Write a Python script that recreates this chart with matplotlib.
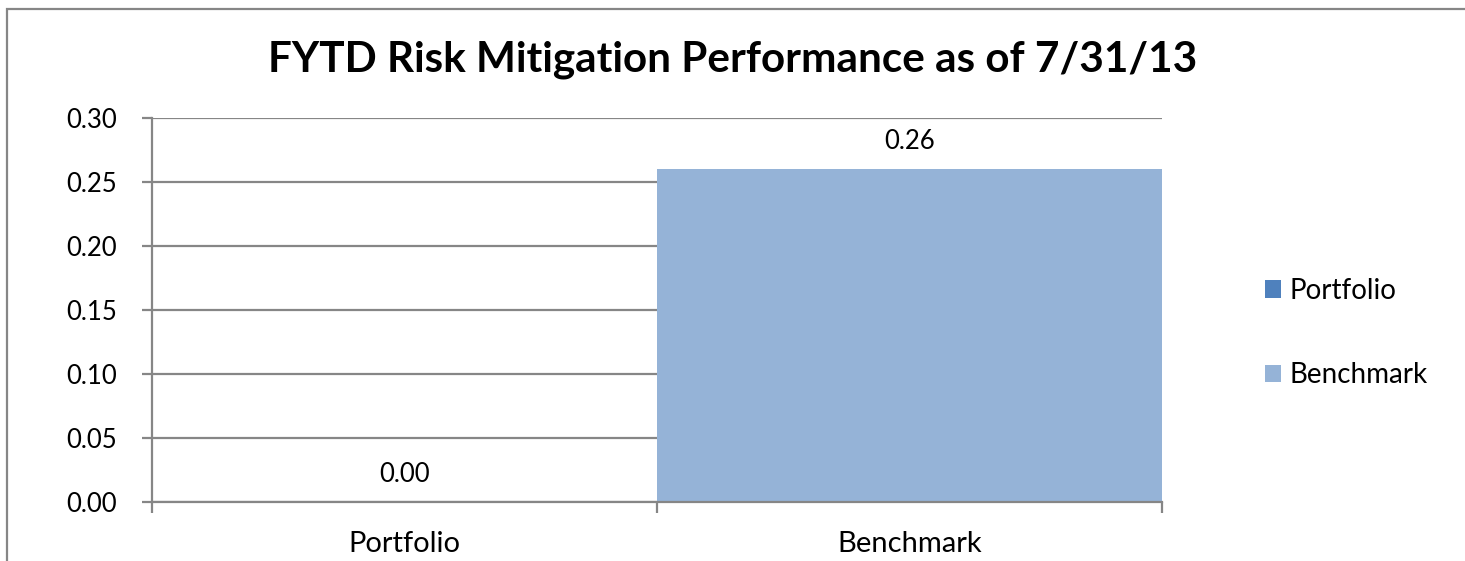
import matplotlib
matplotlib.use('Agg')
import matplotlib.pyplot as plt
from matplotlib.patches import Rectangle, Patch

plt.rcParams['font.family'] = ['Lato', 'DejaVu Sans']

# chart data
categories = ['Portfolio', 'Benchmark']
values = [0.00, 0.26]
colors = ['#4F81BD', '#95B3D7']
yticks = [0.00, 0.05, 0.10, 0.15, 0.20, 0.25, 0.30]
title = 'FYTD Risk Mitigation Performance as of 7/31/13'

grid_gray = '#868686'

fig = plt.figure(figsize=(14.65, 5.61), dpi=100)
ax = fig.add_axes([152 / 1465, 59 / 561, 1010 / 1465, 384 / 561])

xs = list(range(len(categories)))
bars = ax.bar(xs, values, width=1.0, color=colors, zorder=2)

ax.set_xlim(-0.5, len(categories) - 0.5)
ax.set_ylim(0, 0.30)
ax.set_yticks(yticks)
ax.set_yticklabels([f'{v:.2f}' for v in yticks])
ax.grid(axis='y', color=grid_gray, linewidth=1.6, zorder=0)

# category labels at centres, tick marks at boundaries
ax.set_xticks(xs)
ax.set_xticklabels(categories)
ax.set_xticks([x - 0.5 for x in xs] + [xs[-1] + 0.5], minor=True)
ax.tick_params(axis='x', which='major', length=0, pad=21, labelsize=21)
ax.tick_params(axis='x', which='minor', length=8, width=1.6, color=grid_gray)
ax.tick_params(axis='y', length=7, width=1.6, color=grid_gray, pad=18, labelsize=18.5)

for side in ['top', 'right']:
    ax.spines[side].set_visible(False)
for side in ['left', 'bottom']:
    ax.spines[side].set_color(grid_gray)
    ax.spines[side].set_linewidth(1.6)
    ax.spines[side].set_zorder(3)

for x, v in zip(xs, values):
    ax.annotate(f'{v:.2f}', (x, v), xytext=(0, 20), textcoords='offset points',
                ha='center', va='center', fontsize=18.5)

fig.text(0.5, 1 - 60 / 561, title, ha='center', va='center',
         fontsize=30.4, fontweight='bold')

handles = [Patch(facecolor=c, edgecolor='none') for c in colors]
fig.legend(handles, categories, loc='center left',
           bbox_to_anchor=(1265 / 1465, 1 - 333 / 561), frameon=False,
           fontsize=20, labelspacing=2.1, handlelength=0.58, handleheight=0.58,
           handletextpad=0.3, borderpad=0, borderaxespad=0)

# outer chart border
fig.patches.append(Rectangle((7 / 1465, -0.1), 1.1, 1.1 - 9 / 561, transform=fig.transFigure,
                             fill=False, edgecolor=grid_gray, linewidth=1.6))

fig.savefig('out.png', dpi=100)
